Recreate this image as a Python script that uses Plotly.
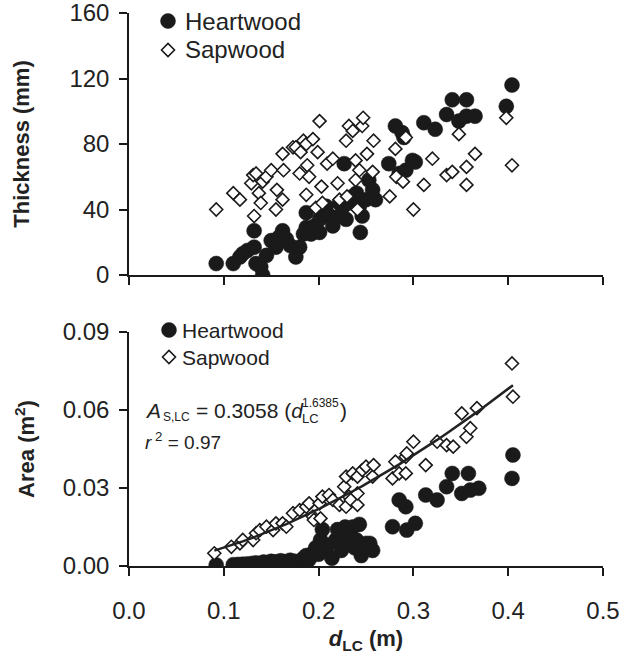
import plotly.graph_objects as go

# ---------------- data ----------------
# Top panel: thickness (mm) vs d_LC (m)
heart_d_top = [0.092, 0.110, 0.117, 0.120, 0.125, 0.132, 0.132, 0.134, 0.139, 0.141,
               0.145, 0.150, 0.155, 0.158, 0.162, 0.166, 0.170, 0.176, 0.180, 0.184,
               0.187, 0.187, 0.192, 0.196, 0.201, 0.201, 0.204, 0.208, 0.212, 0.215,
               0.218, 0.222, 0.225, 0.227, 0.229, 0.232, 0.236, 0.240, 0.243, 0.244,
               0.246, 0.250, 0.253, 0.257, 0.260, 0.274, 0.281, 0.285, 0.288, 0.290,
               0.292, 0.299, 0.302, 0.311, 0.323, 0.335, 0.341, 0.348, 0.356, 0.356,
               0.365, 0.398, 0.404]
heart_t_top = [7, 7, 11, 13, 15, 27, 17, 7, 5, 0,
               12, 21, 17, 23, 27, 22, 18, 11, 17, 25,
               38, 29, 25, 30, 26, 34, 40, 42, 36, 30,
               35, 44, 41, 68, 34, 44, 48, 50, 42, 26,
               36, 46, 58, 52, 46, 68, 91, 62, 87, 84,
               64, 70, 69, 93, 89, 98, 107, 94, 107, 97,
               97, 103, 116]

sap_d_top = [0.092, 0.110, 0.117, 0.129, 0.131, 0.134, 0.132, 0.137, 0.139, 0.141,
             0.145, 0.150, 0.155, 0.156, 0.162, 0.163, 0.162, 0.173, 0.176, 0.181,
             0.184, 0.187, 0.194, 0.180, 0.188, 0.190, 0.187, 0.197, 0.199, 0.201,
             0.203, 0.204, 0.209, 0.215, 0.220, 0.222, 0.229, 0.230, 0.232, 0.236,
             0.239, 0.243, 0.246, 0.247, 0.239, 0.241, 0.251, 0.257, 0.258, 0.275,
             0.281, 0.282, 0.289, 0.292, 0.300, 0.311, 0.320, 0.335, 0.341, 0.348,
             0.356, 0.356, 0.365, 0.398, 0.404]
sap_t_top = [40, 50, 46, 56, 61, 62, 36, 50, 44, 57,
             60, 64, 40, 52, 74, 64, 46, 78, 78, 75,
             82, 80, 83, 62, 67, 60, 49, 41, 75, 94,
             54, 44, 68, 71, 56, 46, 82, 48, 91, 88,
             70, 64, 91, 96, 58, 40, 74, 63, 82, 48,
             77, 60, 57, 84, 40, 55, 71, 61, 63, 86,
             66, 55, 74, 96, 67]

# Bottom panel: area (m2) vs d_LC (m)
heart_d_bot = [0.092, 0.110, 0.115, 0.120, 0.125, 0.130, 0.134, 0.138, 0.142, 0.146,
               0.150, 0.155, 0.160, 0.165, 0.170, 0.175, 0.180, 0.184, 0.187, 0.190,
               0.194, 0.197, 0.200, 0.202, 0.204, 0.207, 0.210, 0.214, 0.218, 0.220,
               0.224, 0.226, 0.228, 0.230, 0.233, 0.236, 0.238, 0.240, 0.243, 0.245,
               0.248, 0.250, 0.254, 0.257, 0.278, 0.285, 0.292, 0.293, 0.302, 0.313,
               0.325, 0.335, 0.341, 0.351, 0.358, 0.360, 0.369, 0.404, 0.405]
heart_a_bot = [0.0004, 0.0005, 0.0006, 0.0007, 0.0008, 0.0010, 0.0012, 0.0010, 0.0015, 0.0013,
               0.0018, 0.0016, 0.0020, 0.0017, 0.0022, 0.0018, 0.0015, 0.0030, 0.0040, 0.0025,
               0.0050, 0.0070, 0.0045, 0.0100, 0.0140, 0.0060, 0.0080, 0.0030, 0.0100, 0.0140,
               0.0060, 0.0110, 0.0150, 0.0090, 0.0120, 0.0150, 0.0070, 0.0100, 0.0160, 0.0040,
               0.0080, 0.0087, 0.0087, 0.0060, 0.0151, 0.0254, 0.0228, 0.0138, 0.0164, 0.0273,
               0.0254, 0.0305, 0.0356, 0.0279, 0.0356, 0.0292, 0.0299, 0.0337, 0.0427]

sap_d_bot = [0.090, 0.108, 0.117, 0.120, 0.131, 0.134, 0.138, 0.145, 0.152, 0.155,
             0.162, 0.166, 0.173, 0.180, 0.187, 0.190, 0.194, 0.201, 0.195, 0.202,
             0.204, 0.211, 0.215, 0.222, 0.227, 0.229, 0.232, 0.236, 0.241, 0.229,
             0.234, 0.241, 0.241, 0.246, 0.250, 0.257, 0.258, 0.278, 0.281, 0.285,
             0.292, 0.292, 0.293, 0.300, 0.313, 0.325, 0.335, 0.342, 0.351, 0.356,
             0.360, 0.367, 0.404, 0.405]
sap_a_bot = [0.0049, 0.0074, 0.0087, 0.0100, 0.0100, 0.0126, 0.0138, 0.0151, 0.0138, 0.0164,
             0.0164, 0.0151, 0.0203, 0.0215, 0.0228, 0.0241, 0.0190, 0.0241, 0.0177, 0.0183,
             0.0267, 0.0273, 0.0254, 0.0235, 0.0305, 0.0344, 0.0267, 0.0356, 0.0344, 0.0228,
             0.0254, 0.0235, 0.0279, 0.0369, 0.0382, 0.0344, 0.0388, 0.0337, 0.0401, 0.0356,
             0.0356, 0.0420, 0.0433, 0.0478, 0.0388, 0.0478, 0.0465, 0.0459, 0.0587, 0.0497,
             0.0530, 0.0607, 0.0779, 0.0651]

# Fitted power law printed on the chart: A = 0.3058 * d^1.6385
fit_coef = 0.3058
fit_exp = 1.6385
fit_d = sorted(set(sap_d_bot))
fit_a = [fit_coef * d ** fit_exp for d in fit_d]

x_ticks = [0.0, 0.1, 0.2, 0.3, 0.4, 0.5]
x_tick_text = ["0.0", "0.1", "0.2", "0.3", "0.4", "0.5"]
top_ticks = [0, 40, 80, 120, 160]
bot_ticks = [0.0, 0.03, 0.06, 0.09]
bot_tick_text = ["0.00", "0.03", "0.06", "0.09"]
legend_labels = ["Heartwood", "Sapwood"]

# ---------------- figure ----------------
FONT = "Liberation Sans, Arial, Helvetica, sans-serif"
INK = "#1a1a1a"
W, H = 628, 659
ML, MR, MT, MB = 129, 25, 13, 93
PW, PH = W - ML - MR, H - MT - MB


def px_x(p):
    return (p - ML) / PW


def px_y(q):
    return (H - MB - q) / PH


heart_marker = dict(symbol="circle", size=15, color=INK, line=dict(color=INK, width=0.5))
sap_marker = dict(symbol="diamond", size=10, color="white", line=dict(color=INK, width=1.6))

fig = go.Figure()
fig.add_trace(go.Scatter(x=heart_d_top, y=heart_t_top, mode="markers", name="Heartwood",
                         marker=heart_marker, xaxis="x", yaxis="y"))
fig.add_trace(go.Scatter(x=sap_d_top, y=sap_t_top, mode="markers", name="Sapwood",
                         marker=sap_marker, xaxis="x", yaxis="y"))
fig.add_trace(go.Scatter(x=heart_d_bot, y=heart_a_bot, mode="markers", name="Heartwood",
                         marker=heart_marker, xaxis="x2", yaxis="y2"))
fig.add_trace(go.Scatter(x=sap_d_bot, y=sap_a_bot, mode="markers", name="Sapwood",
                         marker=sap_marker, xaxis="x2", yaxis="y2"))
fig.add_trace(go.Scatter(x=fit_d, y=fit_a, mode="lines", name="fit",
                         line=dict(color="#222222", width=2.5), xaxis="x2", yaxis="y2"))

axis_common = dict(showline=True, linecolor=INK, linewidth=1.5, ticks="outside",
                   ticklen=8, tickwidth=1.5, tickcolor=INK, showgrid=False,
                   zeroline=False, automargin=False, ticklabeloverflow="allow",
                   tickfont=dict(family=FONT, size=24, color="#222222"))

fig.update_layout(
    width=W, height=H,
    margin=dict(l=ML, r=MR, t=MT, b=MB, autoexpand=False),
    paper_bgcolor="white", plot_bgcolor="white",
    font=dict(family=FONT, color="#222222"),
    showlegend=False,
    xaxis=dict(domain=[0, 1], anchor="y", range=[0, 0.5], tickvals=x_ticks,
               showticklabels=False, **axis_common),
    yaxis=dict(domain=[px_y(275), 1], anchor="x", range=[0, 160], tickvals=top_ticks,
               ticklabelstandoff=5,
               title=dict(text="<b>Thickness (mm)</b>", font=dict(size=22, family=FONT),
                          standoff=34),
               **axis_common),
    xaxis2=dict(domain=[0, 1], anchor="y2", range=[0, 0.5], tickvals=x_ticks,
                ticktext=x_tick_text, ticklabelstandoff=14,
                title=dict(text="<b><i>d</i></b><b><sub>LC</sub> (m)</b>",
                           font=dict(size=22, family=FONT), standoff=8),
                **axis_common),
    yaxis2=dict(domain=[0, px_y(332)], anchor="x2", range=[0, 0.09], tickvals=bot_ticks,
                ticktext=bot_tick_text, ticklabelstandoff=5,
                title=dict(text="<b>Area (m<sup>2</sup>)</b>", font=dict(size=22, family=FONT),
                           standoff=22),
                **axis_common),
)

# ---- legends drawn in pixel-sized shapes + text ----
def add_legend(cx, rows_y, text_x, fsize):
    fig.add_shape(type="circle", xref="paper", yref="paper",
                  xsizemode="pixel", ysizemode="pixel",
                  xanchor=px_x(cx), yanchor=px_y(rows_y[0]),
                  x0=-7.5, x1=7.5, y0=-7.5, y1=7.5,
                  fillcolor=INK, line=dict(color=INK, width=0.5))
    fig.add_shape(type="path", xref="paper", yref="paper",
                  xsizemode="pixel", ysizemode="pixel",
                  xanchor=px_x(cx), yanchor=px_y(rows_y[1]),
                  path="M -6.5 0 L 0 6.5 L 6.5 0 L 0 -6.5 Z",
                  fillcolor="white", line=dict(color=INK, width=1.6))
    for lab, ry in zip(legend_labels, rows_y):
        fig.add_annotation(text=lab, x=px_x(text_x), y=px_y(ry), xref="paper", yref="paper",
                           xanchor="left", yanchor="middle", showarrow=False,
                           font=dict(family=FONT, size=fsize, color="#222222"), borderpad=0)


add_legend(168, [21, 50], 184, 24)
add_legend(169, [330, 357], 181, 21)

ann_font = dict(family=FONT, size=21, color="#222222")
anns = [
    ("<i>A</i>", 144, 410, ann_font),
    ("S,LC", 162, 417, dict(family=FONT, size=12, color="#222222")),
    ("= 0.3058 (<i>d</i>", 195, 410, ann_font),
    ("1.6385", 301, 403, dict(family=FONT, size=12, color="#222222")),
    ("LC", 301, 418, dict(family=FONT, size=13, color="#222222")),
    (")", 339, 410, ann_font),
    ("<i>r</i><sup> 2</sup> = 0.97", 144, 441, dict(family=FONT, size=19, color="#222222")),
]
for text, px, py, f in anns:
    fig.add_annotation(text=text, x=px_x(px), y=px_y(py), xref="paper", yref="paper",
                       xanchor="left", yanchor="middle", showarrow=False, font=f,
                       borderpad=0)

fig.write_html("out.html", config={"displayModeBar": False},
               post_script="document.body.style.margin='0px';"
                           "document.documentElement.style.margin='0px';")
